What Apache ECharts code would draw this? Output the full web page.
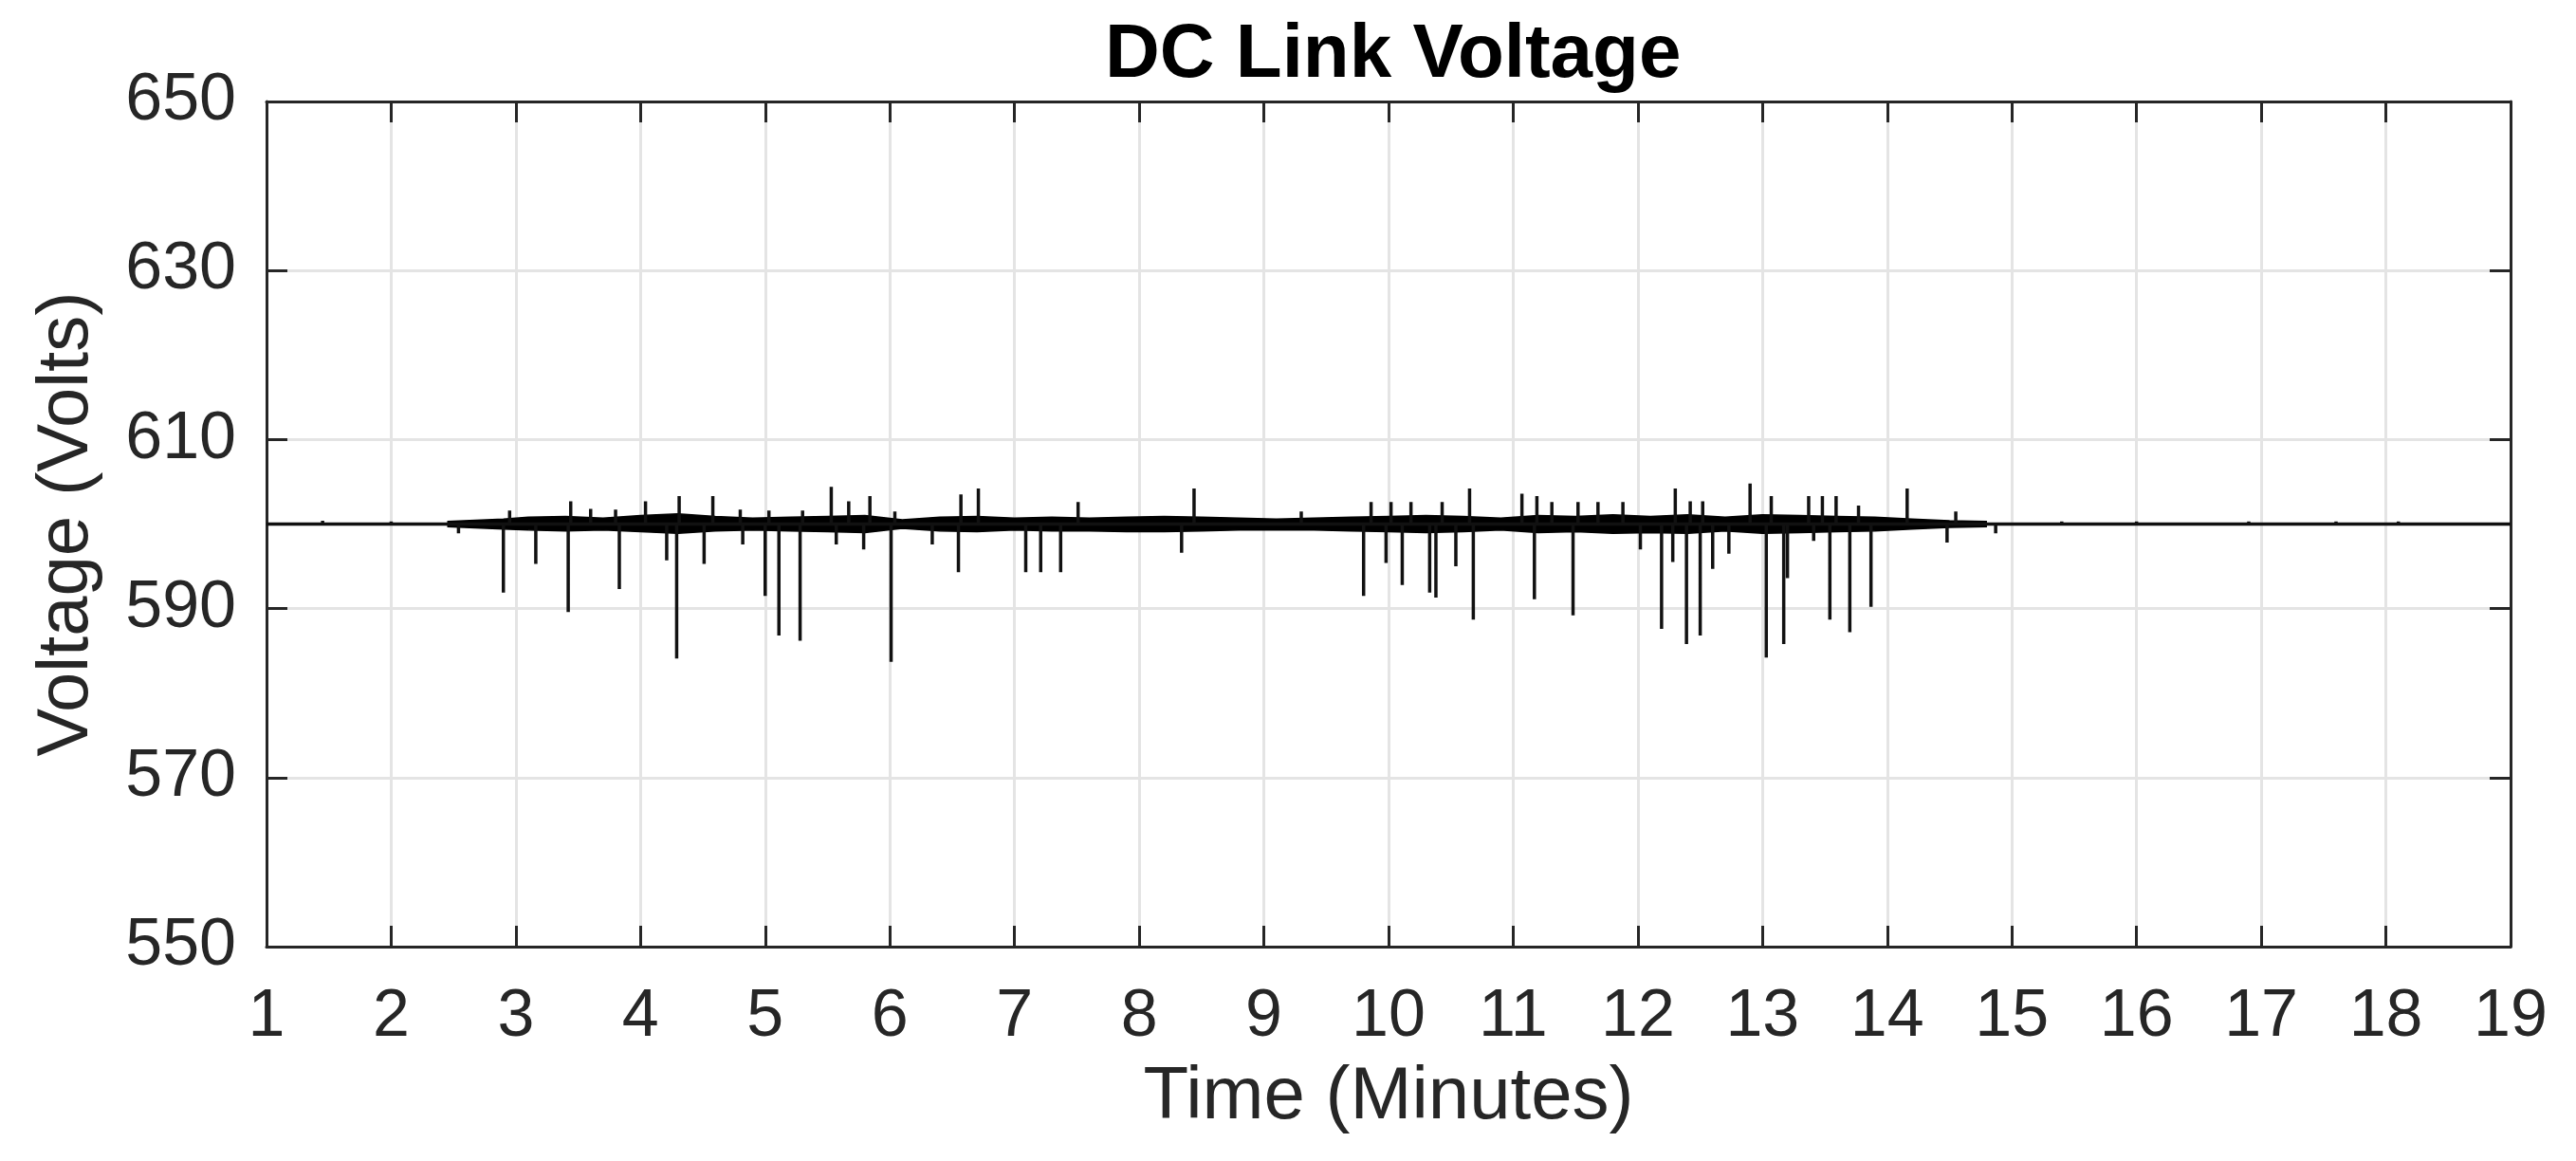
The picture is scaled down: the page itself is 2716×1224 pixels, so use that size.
<!DOCTYPE html>
<html>
<head>
<meta charset="utf-8">
<title>DC Link Voltage</title>
<script src="https://cdn.jsdelivr.net/npm/echarts@6/dist/echarts.min.js"></script>
<style>
  html, body { margin: 0; padding: 0; background: #fff; }
  #chart { width: 2716px; height: 1224px; }
</style>
</head>
<body>
<div id="chart"></div>
<script>
// nominal dc link level (V)
const nominal = 600;
const timeStart = 1;
const timeEnd = 19;

// downward dips: time (min) and lowest voltage (V)
const dipTimes = [2.54, 2.90, 3.16, 3.42, 3.83, 4.21, 4.29, 4.51, 4.82, 5.00, 5.11, 5.28, 5.57, 5.79, 6.01,
  6.34, 6.55, 7.09, 7.21, 7.37, 8.34, 9.80, 9.98, 10.11, 10.33, 10.38, 10.54, 10.68, 11.17, 11.48,
  12.02, 12.19, 12.28, 12.39, 12.50, 12.60, 12.73, 13.03, 13.17, 13.20, 13.41, 13.54, 13.70, 13.87, 14.48, 14.87];
const dipVolts = [598.9, 591.9, 595.3, 589.6, 592.3, 595.7, 584.1, 595.3, 597.6, 591.5, 586.8, 586.2, 597.6, 597.0, 583.7,
  597.6, 594.3, 594.3, 594.3, 594.3, 596.6, 591.5, 595.4, 592.8, 591.9, 591.3, 595.0, 588.7, 591.1, 589.2,
  597.0, 587.6, 595.5, 585.8, 586.8, 594.7, 596.5, 584.2, 585.8, 593.6, 598.0, 588.7, 587.2, 590.2, 597.8, 598.9];

// upward overshoots: time (min) and peak voltage (V)
const peakTimes = [1.45, 2.00, 2.95, 3.44, 3.60, 3.80, 4.04, 4.31, 4.58, 4.80, 5.03, 5.30, 5.53, 5.67, 5.84, 6.04,
  6.57, 6.71, 7.51, 8.44, 9.30, 9.86, 10.02, 10.18, 10.43, 10.65, 11.07, 11.19, 11.31, 11.52, 11.68, 11.88,
  12.30, 12.42, 12.52, 12.90, 13.07, 13.37, 13.48, 13.59, 13.77, 14.16, 14.55, 15.40, 16.00, 16.90, 17.60, 18.10];
const peakVolts = [600.4, 600.3, 601.6, 602.7, 601.8, 601.7, 602.7, 603.3, 603.3, 601.7, 601.6, 601.6, 604.4, 602.7, 603.3, 601.5,
  603.5, 604.2, 602.6, 604.2, 601.5, 602.6, 602.6, 602.6, 602.6, 604.2, 603.6, 603.3, 602.6, 602.6, 602.6, 602.6,
  604.2, 602.7, 602.7, 604.8, 603.3, 603.3, 603.3, 603.3, 602.2, 604.2, 601.5, 600.3, 600.3, 600.3, 600.3, 600.3];

// ripple envelope around the nominal level
const bandTimes = [2.45, 2.9, 3.1, 3.4, 3.7, 4.0, 4.3, 4.6, 4.9, 5.2, 5.5, 5.8, 6.1, 6.4,
  6.7, 7.0, 7.3, 7.6, 7.9, 8.2, 8.5, 8.8, 9.1, 9.4, 9.7, 10.0, 10.3, 10.6,
  10.9, 11.2, 11.5, 11.8, 12.1, 12.4, 12.7, 13.0, 13.3, 13.6, 13.9, 14.2, 14.5, 14.8];
const bandHigh = [600.3, 600.6, 600.8, 600.9, 600.7, 601.0, 601.2, 600.9, 600.7, 600.8, 600.9, 601.0, 600.5, 600.8,
  600.9, 600.7, 600.8, 600.7, 600.8, 600.9, 600.8, 600.7, 600.6, 600.7, 600.8, 600.9, 601.0, 600.9,
  600.7, 601.0, 600.9, 601.1, 600.9, 601.1, 600.8, 601.1, 601.0, 600.9, 600.8, 600.6, 600.4, 600.3];
const bandLow = [599.7, 599.4, 599.3, 599.2, 599.3, 599.1, 598.9, 599.2, 599.3, 599.2, 599.1, 599.0, 599.5, 599.2,
  599.1, 599.3, 599.2, 599.2, 599.1, 599.1, 599.2, 599.3, 599.3, 599.3, 599.2, 599.1, 599.0, 599.1,
  599.3, 599.0, 599.1, 598.9, 599.0, 598.9, 599.2, 598.9, 599.0, 599.1, 599.2, 599.4, 599.6, 599.7];

// axis ranges
const yMin = 550, yMax = 650, yStep = 20;
const xMin = 1, xMax = 19, xStep = 1;

const font = "'Liberation Sans', Arial, Helvetica, sans-serif";
const axisColor = '#262626';

// build the trace: baseline with vertical excursions at every event
const events = [];
dipTimes.forEach((t, i) => events.push([t, dipVolts[i]]));
peakTimes.forEach((t, i) => events.push([t, peakVolts[i]]));
events.sort((a, b) => a[0] - b[0]);

const trace = [[timeStart, nominal]];
events.forEach(e => {
  trace.push([e[0], nominal]);
  trace.push([e[0], e[1]]);
  trace.push([e[0], nominal]);
});
trace.push([timeEnd, nominal]);

const highData = bandTimes.map((t, i) => [t, bandHigh[i]]);
const lowData = bandTimes.map((t, i) => [t, bandLow[i]]);

const chart = echarts.init(document.getElementById('chart'), null, { renderer: 'canvas' });

// top / right frame with inward ticks, like a boxed matlab axes
const frameAxis = {
  axisLine: { show: true, lineStyle: { color: axisColor, width: 3 } },
  axisTick: { show: true, inside: true, length: 22, lineStyle: { color: axisColor, width: 3 } },
  axisLabel: { show: false },
  splitLine: { show: false }
};

const option = {
  animation: false,
  backgroundColor: '#fff',
  title: {
    text: 'DC Link Voltage',
    left: 1160,
    top: 14,
    textStyle: { fontFamily: font, fontSize: 80, fontWeight: 'bold', color: '#000' }
  },
  grid: { left: 281, right: 69, top: 107, bottom: 226, containLabel: false },
  xAxis: [
    {
      type: 'value',
      min: xMin, max: xMax, interval: xStep,
      name: 'Time (Minutes)',
      nameLocation: 'middle',
      nameGap: 120,
      nameTextStyle: { fontFamily: font, fontSize: 78, color: axisColor },
      axisLine: { show: true, onZero: false, lineStyle: { color: axisColor, width: 3 } },
      axisTick: { show: true, inside: true, length: 22, lineStyle: { color: axisColor, width: 3 } },
      axisLabel: { fontFamily: font, fontSize: 70, color: axisColor, margin: 40 },
      splitLine: { show: true, lineStyle: { color: '#e4e4e4', width: 3 } }
    },
    Object.assign({ type: 'value', position: 'top', min: xMin, max: xMax, interval: xStep }, frameAxis)
  ],
  yAxis: [
    {
      type: 'value',
      min: yMin, max: yMax, interval: yStep,
      name: 'Voltage (Volts)',
      nameLocation: 'middle',
      nameGap: 172,
      nameTextStyle: { fontFamily: font, fontSize: 76, color: axisColor },
      axisLine: { show: true, onZero: false, lineStyle: { color: axisColor, width: 3 } },
      axisTick: { show: true, inside: true, length: 22, lineStyle: { color: axisColor, width: 3 } },
      axisLabel: { fontFamily: font, fontSize: 70, color: axisColor, margin: 32 },
      splitLine: { show: true, lineStyle: { color: '#e4e4e4', width: 3 } }
    },
    Object.assign({ type: 'value', position: 'right', min: yMin, max: yMax, interval: yStep }, frameAxis)
  ],
  series: [
    {
      name: 'ripple high',
      type: 'line',
      data: highData,
      showSymbol: false,
      symbol: 'none',
      lineStyle: { color: '#000', width: 1.5 },
      areaStyle: { color: '#000', opacity: 1, origin: nominal },
      z: 3
    },
    {
      name: 'ripple low',
      type: 'line',
      data: lowData,
      showSymbol: false,
      symbol: 'none',
      lineStyle: { color: '#000', width: 1.5 },
      areaStyle: { color: '#000', opacity: 1, origin: nominal },
      z: 3
    },
    {
      name: 'DC link',
      type: 'line',
      data: trace,
      showSymbol: false,
      symbol: 'none',
      sampling: null,
      lineStyle: { color: '#111', width: 3.5 },
      z: 4
    }
  ]
};

chart.setOption(option);
</script>
</body>
</html>
